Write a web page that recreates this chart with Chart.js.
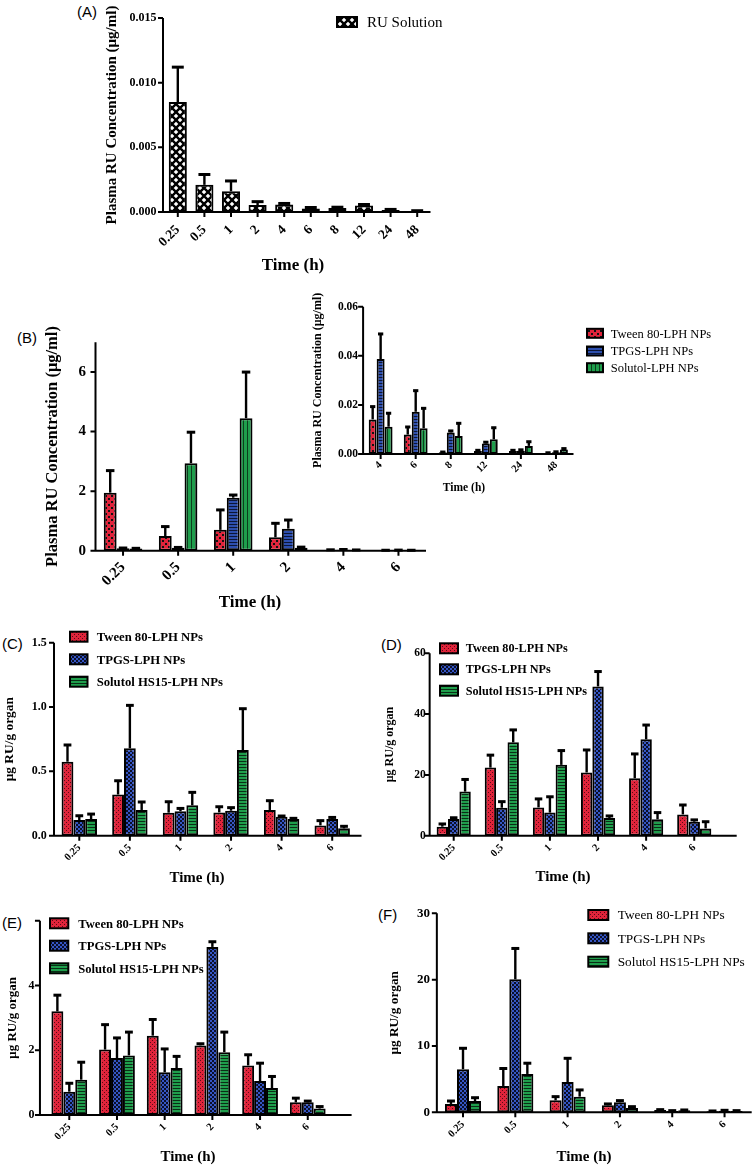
<!DOCTYPE html>
<html>
<head>
<meta charset="utf-8">
<script src="https://cdn.jsdelivr.net/npm/chart.js@4.4.1/dist/chart.umd.min.js"></script>
<style>
  body { margin: 0; background: #fff; width: 755px; height: 1167px; position: relative; overflow: hidden; }
  canvas { position: absolute; left: 0; top: 0; }
  .tag { position: absolute; font: 15px "Liberation Sans", Arial, sans-serif; color: #000; line-height: 1; }
</style>
</head>
<body>
<div class="tag" style="left:77px;top:4px">(A)</div>
<div class="tag" style="left:17px;top:330px">(B)</div>
<div class="tag" style="left:2px;top:636px">(C)</div>
<div class="tag" style="left:381px;top:637px">(D)</div>
<div class="tag" style="left:2px;top:915px">(E)</div>
<div class="tag" style="left:378px;top:907px">(F)</div>

<canvas id="chartA" width="755" height="1167"></canvas>
<canvas id="chartB" width="755" height="1167"></canvas>
<canvas id="chartInset" width="755" height="1167"></canvas>
<canvas id="chartC" width="755" height="1167"></canvas>
<canvas id="chartD" width="755" height="1167"></canvas>
<canvas id="chartE" width="755" height="1167"></canvas>
<canvas id="chartF" width="755" height="1167"></canvas>

<script>
// ---- data (means and SD)
const timeA = ['0.25', '0.5', '1', '2', '4', '6', '8', '12', '24', '48'];
const ruSolution    = [0.0085, 0.0021, 0.0016, 0.00054, 0.00058, 0.00028, 0.0003, 0.0005, 0.00015, 0.00007];
const ruSolutionErr = [0.0027, 0.0008, 0.0008, 0.00026, 0.00008, 0.00007, 0.00007, 0.00008, 0.00005, 0.00003];

const timeEarly = ['0.25', '0.5', '1', '2', '4', '6'];
const timeLate  = ['4', '6', '8', '12', '24', '48'];

// (B) plasma, early time points
const bTween      = [1.95, 0.49, 0.70, 0.45, 0.02, 0.01];
const bTweenErr   = [0.74, 0.32, 0.67, 0.47, 0.01, 0.005];
const bTpgs       = [0.08, 0.10, 1.78, 0.74, 0.03, 0.015];
const bTpgsErr    = [0.01, 0.01, 0.09, 0.29, 0.01, 0.005];
const bSolutol    = [0.07, 2.94, 4.45, 0.10, 0.02, 0.01];
const bSolutolErr = [0.01, 1.04, 1.55, 0.02, 0.005, 0.005];

// (B) inset, late time points
const iTween      = [0.0141, 0.0079, 0.0007, 0.0012, 0.0012, 0.0004];
const iTweenErr   = [0.0052, 0.0031, 0.0001, 0.0003, 0.0003, 0.0001];
const iTpgs       = [0.0387, 0.0172, 0.0088, 0.0043, 0.0013, 0.0007];
const iTpgsErr    = [0.0102, 0.0086, 0.0006, 0.0005, 0.0004, 0.0002];
const iSolutol    = [0.0111, 0.0105, 0.0073, 0.0060, 0.0033, 0.0018];
const iSolutolErr = [0.0055, 0.0081, 0.0052, 0.0047, 0.0017, 0.0004];

// (C)
const cTween      = [0.575, 0.32, 0.179, 0.181, 0.20, 0.08];
const cTweenErr   = [0.13, 0.107, 0.085, 0.044, 0.072, 0.037];
const cTpgs       = [0.122, 0.679, 0.19, 0.194, 0.148, 0.13];
const cTpgsErr    = [0.033, 0.334, 0.022, 0.024, 0.005, 0.012];
const cSolutol    = [0.13, 0.20, 0.236, 0.666, 0.13, 0.057];
const cSolutolErr = [0.038, 0.062, 0.101, 0.321, 0.005, 0.016];

// (D)
const dTween      = [2.96, 22.4, 9.3, 20.8, 18.9, 7.0];
const dTweenErr   = [0.9, 4.1, 2.8, 7.4, 8.0, 3.1];
const dTpgs       = [5.5, 9.2, 7.6, 49.1, 31.7, 4.6];
const dTpgsErr    = [0.4, 2.0, 5.2, 4.9, 4.7, 0.6];
const dSolutol    = [14.5, 30.7, 23.3, 5.8, 5.4, 2.4];
const dSolutolErr = [4.0, 4.1, 4.7, 0.7, 2.2, 2.2];

// (E)
const eTween      = [3.2, 2.02, 2.45, 2.15, 1.53, 0.39];
const eTweenErr   = [0.5, 0.77, 0.5, 0.05, 0.33, 0.13];
const eTpgs       = [0.72, 1.76, 1.32, 5.19, 1.05, 0.39];
const eTpgsErr    = [0.26, 0.62, 0.72, 0.16, 0.55, 0.04];
const eSolutol    = [1.09, 1.84, 1.45, 1.94, 0.83, 0.2];
const eSolutolErr = [0.54, 0.72, 0.36, 0.62, 0.36, 0.06];

// (F)
const fTween      = [1.26, 3.97, 1.8, 1.05, 0.35, 0.15];
const fTweenErr   = [0.44, 2.63, 0.56, 0.21, 0.05, 0.05];
const fTpgs       = [6.5, 20.05, 4.57, 1.5, 0.2, 0.25];
const fTpgsErr    = [3.15, 4.65, 3.57, 0.26, 0.05, 0.05];
const fSolutol    = [1.7, 5.78, 2.36, 0.65, 0.3, 0.2];
const fSolutolErr = [0.5, 1.62, 1.01, 0.2, 0.05, 0.05];

const plasmaTitle = 'Plasma RU Concentration (\u03bcg/ml)';
const organTitle  = '\u03bcg RU/g organ';
const timeTitle   = 'Time (h)';

// ---- styling
const serif = '"Liberation Serif", "Times New Roman", serif';
Chart.defaults.font.family = serif;
Chart.defaults.color = '#000';

const red = '#e0243b', blue = '#3556c4', green = '#1f9e4c';

function pattern(w, h, draw) {
  const c = document.createElement('canvas');
  c.width = w; c.height = h;
  const g = c.getContext('2d');
  draw(g);
  return g.createPattern(c, 'repeat');
}

const crossHatch = pattern(8, 8, g => {
  g.fillStyle = '#fff'; g.fillRect(0, 0, 8, 8);
  g.strokeStyle = '#000'; g.lineWidth = 2.4;
  g.beginPath();
  g.moveTo(-1, -1); g.lineTo(9, 9);
  g.moveTo(9, -1); g.lineTo(-1, 9);
  g.stroke();
});
const redCheck = pattern(6, 6, g => {
  g.fillStyle = red; g.fillRect(0, 0, 6, 6);
  g.fillStyle = '#111'; g.fillRect(0, 0, 2, 2); g.fillRect(3, 3, 2, 2);
});
const blueRows = pattern(3, 3, g => {
  g.fillStyle = '#2d4fae'; g.fillRect(0, 0, 3, 3);
  g.fillStyle = '#0c1636'; g.fillRect(0, 2, 3, 1);
});
const greenCols = pattern(4, 4, g => {
  g.fillStyle = green; g.fillRect(0, 0, 4, 4);
  g.fillStyle = '#0c3d1d'; g.fillRect(3, 0, 1, 4);
});
const redDots = pattern(4, 4, g => {
  g.fillStyle = red; g.fillRect(0, 0, 4, 4);
  g.fillStyle = '#5a0a14'; g.fillRect(0, 0, 1, 1); g.fillRect(2, 2, 1, 1);
});
const blueCheck = pattern(4, 4, g => {
  g.fillStyle = blue; g.fillRect(0, 0, 4, 4);
  g.fillStyle = '#0a0f2a'; g.fillRect(0, 0, 2, 2); g.fillRect(2, 2, 2, 2);
});
const greenRows = pattern(3, 3, g => {
  g.fillStyle = green; g.fillRect(0, 0, 3, 3);
  g.fillStyle = '#0a2e16'; g.fillRect(0, 2, 3, 1);
});

// ---- plugins
const errorBars = {
  id: 'errorBars',
  afterDatasetsDraw(chart) {
    const ctx = chart.ctx, y = chart.scales.y;
    ctx.save();
    ctx.strokeStyle = '#000';
    chart.data.datasets.forEach((ds, i) => {
      chart.getDatasetMeta(i).data.forEach((bar, j) => {
        const top = y.getPixelForValue(ds.data[j] + ds.errors[j]);
        const half = bar.width * 0.33;
        ctx.lineWidth = 2.4;
        ctx.beginPath(); ctx.moveTo(bar.x, bar.y); ctx.lineTo(bar.x, top); ctx.stroke();
        ctx.lineWidth = 3;
        ctx.beginPath(); ctx.moveTo(bar.x - half, top); ctx.lineTo(bar.x + half, top); ctx.stroke();
      });
    });
    ctx.restore();
  }
};

// axis lines, tick marks and the x title (the title is not centred on the plot in the original)
const axisLines = {
  id: 'axisLines',
  afterDatasetsDraw(chart, args, opts) {
    const { ctx, chartArea: a, scales: { x, y } } = chart;
    const x0 = a.left - (opts.gapL || 0);
    ctx.save();
    ctx.strokeStyle = '#000';
    ctx.lineWidth = 2;
    ctx.beginPath();
    ctx.moveTo(x0, a.top); ctx.lineTo(x0, a.bottom);
    ctx.lineTo(a.right + (opts.extR || 0), a.bottom);
    y.ticks.forEach(t => {
      const py = y.getPixelForValue(t.value);
      ctx.moveTo(x0 - 5, py); ctx.lineTo(x0, py);
    });
    x.ticks.forEach((t, i) => {
      const px = x.getPixelForValue(i);
      ctx.moveTo(px, a.bottom); ctx.lineTo(px, a.bottom + 5);
    });
    ctx.stroke();
    if (opts.title) {
      ctx.font = 'bold ' + opts.titleSize + 'px ' + serif;
      ctx.fillStyle = '#000';
      ctx.textAlign = 'center';
      ctx.textBaseline = 'middle';
      ctx.fillText(opts.title, opts.titleX, opts.titleY);
    }
    ctx.restore();
  }
};

const boxLegend = {
  id: 'boxLegend',
  afterDraw(chart, args, o) {
    if (!o || !o.ys) return;
    const ctx = chart.ctx;
    ctx.save();
    ctx.font = (o.bold ? 'bold ' : '') + o.size + 'px ' + serif;
    ctx.textBaseline = 'middle';
    chart.data.datasets.forEach((ds, i) => {
      const cy = o.ys[i];
      ctx.fillStyle = ds.backgroundColor;
      ctx.fillRect(o.x, cy - o.h / 2, o.w, o.h);
      ctx.lineWidth = 2;
      ctx.strokeStyle = '#000';
      ctx.strokeRect(o.x, cy - o.h / 2, o.w, o.h);
      ctx.fillStyle = '#000';
      ctx.fillText(ds.label, o.textX, cy + 1);
    });
    ctx.restore();
  }
};

Chart.register(errorBars, axisLines, boxLegend);

function bold(size) { return { family: serif, size: size, weight: 'bold' }; }

function series(label, data, errors, fill) {
  return { label: label, data: data, errors: errors, backgroundColor: fill };
}

// p.area = [left, top, right, bottom] of the plot area in page pixels
function makePanel(id, p) {
  const lhY = p.yTitleSize * 1.2;
  const padL = p.yTitleX - lhY / 2;
  const boxBottom = p.xTitleY + 10;
  return new Chart(document.getElementById(id), {
    type: 'bar',
    data: { labels: p.labels, datasets: p.datasets },
    options: {
      responsive: false,
      animation: false,
      events: [],
      layout: { padding: { left: padL, top: p.area[1], right: 755 - p.area[2], bottom: 1167 - boxBottom } },
      datasets: {
        bar: { categoryPercentage: p.cat, barPercentage: 1, borderColor: '#000', borderWidth: 2, borderSkipped: false }
      },
      plugins: {
        legend: { display: false },
        tooltip: { enabled: false },
        axisLines: {
          gapL: p.gapL || 0, extR: p.extR || 0,
          title: timeTitle, titleX: p.xTitleX, titleY: p.xTitleY, titleSize: p.xTitleSize
        },
        boxLegend: p.legend || false
      },
      scales: {
        x: {
          grid: { display: false, drawTicks: false },
          border: { display: false },
          ticks: { font: bold(p.xTickSize), minRotation: 45, maxRotation: 45, autoSkip: false, padding: p.xTickPad },
          afterFit: s => { s.height = boxBottom - p.area[3]; }
        },
        y: {
          min: 0, max: p.yMax,
          grid: { display: false, drawTicks: false },
          border: { display: false },
          ticks: {
            stepSize: p.yStep, includeBounds: false, font: bold(p.yTickSize), padding: p.yTickPad,
            callback: v => (p.hideTop && v === p.yMax) ? '' : v.toFixed(p.dec)
          },
          title: { display: true, text: p.yTitle, font: bold(p.yTitleSize), padding: 0 },
          afterFit: s => { s.width = p.area[0] - padL; }
        }
      }
    }
  });
}

// ---- (A)
makePanel('chartA', {
  labels: timeA,
  datasets: [series('RU Solution', ruSolution, ruSolutionErr, crossHatch)],
  area: [164.5, 18, 430.5, 212], cat: 0.68, gapL: 1.5,
  yMax: 0.015, yStep: 0.005, dec: 3, yTitle: plasmaTitle,
  yTitleX: 111.7, yTitleSize: 15, yTickSize: 12, yTickPad: 8,
  xTitleX: 293, xTitleY: 266, xTitleSize: 17, xTickSize: 13.5, xTickPad: 10,
  legend: { x: 337, ys: [22], w: 20, h: 10, textX: 367, size: 15, bold: false }
});

// ---- (B)
makePanel('chartB', {
  labels: timeEarly,
  datasets: [
    series('Tween 80-LPH NPs', bTween, bTweenErr, redCheck),
    series('TPGS-LPH NPs', bTpgs, bTpgsErr, blueRows),
    series('Solutol-LPH NPs', bSolutol, bSolutolErr, greenCols)
  ],
  area: [95.5, 342.3, 426, 550.7], cat: 0.7,
  yMax: 7, yStep: 2, dec: 0, yTitle: plasmaTitle,
  yTitleX: 53, yTitleSize: 16.5, yTickSize: 15, yTickPad: 9.5,
  xTitleX: 250, xTitleY: 603, xTitleSize: 17, xTickSize: 15, xTickPad: 8,
  legend: { x: 587, ys: [333.3, 351, 367.7], w: 16, h: 9, textX: 610.7, size: 12.5, bold: false }
});

// ---- (B) inset
makePanel('chartInset', {
  labels: timeLate,
  datasets: [
    series('Tween 80-LPH NPs', iTween, iTweenErr, redCheck),
    series('TPGS-LPH NPs', iTpgs, iTpgsErr, blueRows),
    series('Solutol-LPH NPs', iSolutol, iSolutolErr, greenCols)
  ],
  area: [363.1, 306.7, 573.5, 454], cat: 0.68,
  yMax: 0.06, yStep: 0.02, dec: 2, yTitle: plasmaTitle,
  yTitleX: 318.3, yTitleSize: 12, yTickSize: 11.5, yTickPad: 5,
  xTitleX: 464, xTitleY: 487.7, xTitleSize: 11.5, xTickSize: 10.5, xTickPad: 5
});

const organLabels = ['Tween 80-LPH NPs', 'TPGS-LPH NPs', 'Solutol HS15-LPH NPs'];

// ---- (C)
makePanel('chartC', {
  labels: timeEarly,
  datasets: [
    series(organLabels[0], cTween, cTweenErr, redDots),
    series(organLabels[1], cTpgs, cTpgsErr, blueCheck),
    series(organLabels[2], cSolutol, cSolutolErr, greenRows)
  ],
  area: [54, 642.7, 357.5, 835.7], cat: 0.7, extR: 4,
  yMax: 1.5, yStep: 0.5, dec: 1, yTitle: organTitle,
  yTitleX: 9.5, yTitleSize: 13.4, yTickSize: 12, yTickPad: 7.3,
  xTitleX: 197, xTitleY: 878.3, xTitleSize: 15, xTickSize: 10.5, xTickPad: 6,
  legend: { x: 70, ys: [636.7, 659.3, 681.7], w: 17.5, h: 10, textX: 96.7, size: 12.7, bold: true }
});

// ---- (D)
makePanel('chartD', {
  labels: timeEarly,
  datasets: [
    series(organLabels[0], dTween, dTweenErr, redDots),
    series(organLabels[1], dTpgs, dTpgsErr, blueCheck),
    series(organLabels[2], dSolutol, dSolutolErr, greenRows)
  ],
  area: [429.65, 653.3, 718.3, 835.7], cat: 0.71, extR: 18.4,
  yMax: 60, yStep: 20, dec: 0, yTitle: organTitle,
  yTitleX: 390, yTitleSize: 12, yTickSize: 11.5, yTickPad: 4,
  xTitleX: 563, xTitleY: 876.7, xTitleSize: 15, xTickSize: 10.5, xTickPad: 6,
  legend: { x: 440, ys: [648.3, 669.3, 690.7], w: 18, h: 10, textX: 465.7, size: 12.2, bold: true }
});

// ---- (E)
makePanel('chartE', {
  labels: timeEarly,
  datasets: [
    series(organLabels[0], eTween, eTweenErr, redDots),
    series(organLabels[1], eTpgs, eTpgsErr, blueCheck),
    series(organLabels[2], eSolutol, eSolutolErr, greenRows)
  ],
  area: [45.45, 920.7, 331.6, 1115], cat: 0.75, gapL: 5.5, extR: 20,
  yMax: 6, yStep: 2, dec: 0, hideTop: true, yTitle: organTitle,
  yTitleX: 12.5, yTitleSize: 13, yTickSize: 12, yTickPad: 11,
  xTitleX: 188, xTitleY: 1156.7, xTitleSize: 15, xTickSize: 10.5, xTickPad: 6,
  legend: { x: 50, ys: [923.3, 945.7, 968.3], w: 18.3, h: 10, textX: 78.3, size: 12.6, bold: true }
});

// ---- (F)
makePanel('chartF', {
  labels: timeEarly,
  datasets: [
    series(organLabels[0], fTween, fTweenErr, redDots),
    series(organLabels[1], fTpgs, fTpgsErr, blueCheck),
    series(organLabels[2], fSolutol, fSolutolErr, greenRows)
  ],
  area: [436.85, 913.3, 750.7, 1112.3], cat: 0.69, extR: 1,
  yMax: 30, yStep: 10, dec: 0, yTitle: organTitle,
  yTitleX: 395, yTitleSize: 13.3, yTickSize: 13, yTickPad: 6.85,
  xTitleX: 584, xTitleY: 1156.7, xTitleSize: 15, xTickSize: 10.5, xTickPad: 6,
  legend: { x: 588.3, ys: [915, 938.3, 961.7], w: 20, h: 10, textX: 617.7, size: 13.3, bold: false }
});
</script>
</body>
</html>
